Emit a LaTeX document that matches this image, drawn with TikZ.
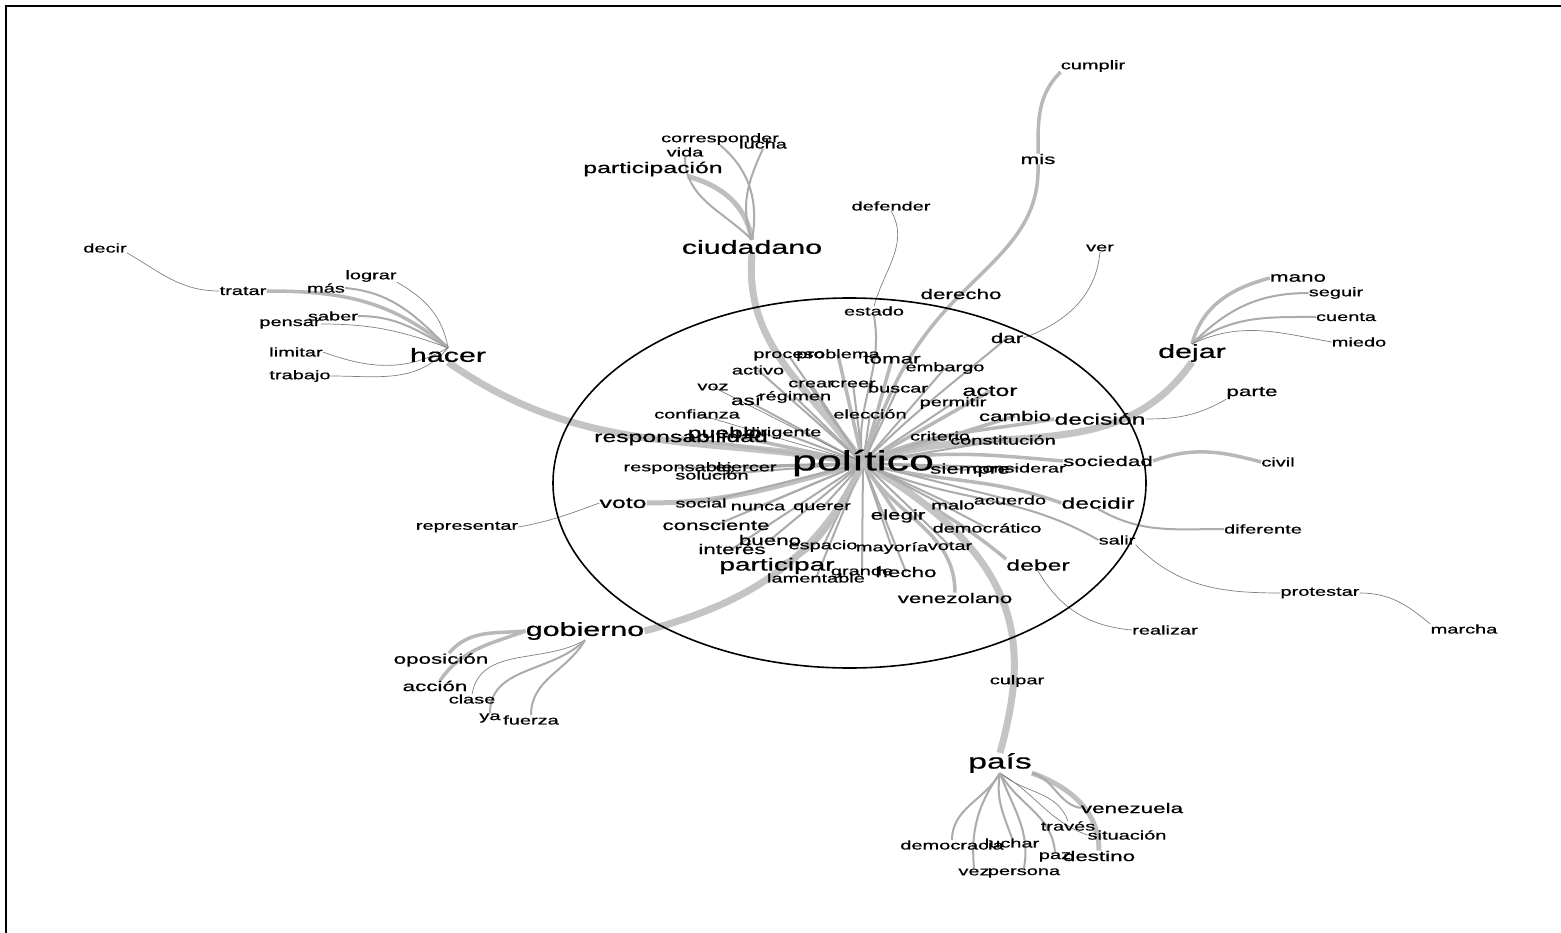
\documentclass[tikz,border=0pt]{standalone}
\usepackage{fontspec}
\setmainfont{Liberation Sans}[BoldFont={Liberation Sans}, BoldFeatures={FakeBold=0.6}]
\usepackage{graphicx}
\usetikzlibrary{backgrounds}
\newcommand{\sx}[1]{\scalebox{1.6}[1]{#1}}
\tikzset{
 wS/.style={inner sep=0pt, font=\bfseries\fontsize{12.5}{14}\selectfont},
 wM/.style={inner sep=0pt, font=\bfseries\fontsize{14}{16}\selectfont},
 wL/.style={inner sep=0pt, font=\bfseries\fontsize{15.5}{18}\selectfont},
 wXL/.style={inner sep=0pt, font=\bfseries\fontsize{19}{22}\selectfont},
 wP/.style={inner sep=0pt, font=\bfseries\fontsize{28}{32}\selectfont},
 e1/.style={draw=black!50, line width=0.7pt},
 e2/.style={draw=black!33, line width=2pt},
 e3/.style={draw=black!28, line width=3.5pt},
 e4/.style={draw=black!25, line width=5pt},
 e5/.style={draw=black!23, line width=7pt},
}
\begin{document}
\begin{tikzpicture}[x=1pt,y=1pt]
\useasboundingbox (0,0) rectangle (1561,-933);
\draw[line width=2.5pt] (6,-933) -- (6,-6) -- (1561,-6);
% ---------- nodes ----------
\node[wP] (politico) at (863,-463) {\sx{político}};
% hacer cluster
\node[wXL] (hacer) at (448,-355) {\sx{hacer}};
\node[wS] (decir) at (105,-248) {\sx{decir}};
\node[wS] (tratar) at (243,-291) {\sx{tratar}};
\node[wS] (mas) at (326,-288) {\sx{más}};
\node[wS] (lograr) at (371,-276) {\sx{lograr}};
\node[wS] (saber) at (333,-316) {\sx{saber}};
\node[wS] (pensar) at (290,-324) {\sx{pensar}};
\node[wS] (limitar) at (296,-352) {\sx{limitar}};
\node[wS] (trabajo) at (300,-376) {\sx{trabajo}};
% ciudadano cluster
\node[wXL] (ciudadano) at (752,-247) {\sx{ciudadano}};
\node[wL] (participacion) at (653,-169) {\sx{participación}};
\node[wS] (corresponder) at (720,-139) {\sx{corresponder}};
\node[wS] (lucha) at (763,-144) {\sx{lucha}};
\node[wS] (vida) at (685,-152) {\sx{vida}};
% top
\node[wS] (defender) at (891,-206) {\sx{defender}};
\node[wM] (mis) at (1038,-159) {\sx{mis}};
\node[wS] (cumplir) at (1093,-66) {\sx{cumplir}};
\node[wS] (ver) at (1100,-248) {\sx{ver}};
\node[wM] (derecho) at (961,-294) {\sx{derecho}};
\node[wS] (estado) at (874,-311) {\sx{estado}};
\node[wM] (dar) at (1007,-338) {\sx{dar}};
% dejar cluster
\node[wXL] (dejar) at (1192,-353) {\sx{dejar}};
\node[wM] (mano) at (1298,-278) {\sx{mano}};
\node[wS] (seguir) at (1336,-293) {\sx{seguir}};
\node[wS] (cuenta) at (1346,-317) {\sx{cuenta}};
\node[wS] (miedo) at (1359,-342) {\sx{miedo}};
\node[wM] (parte) at (1252,-393) {\sx{parte}};
\node[wL] (decision) at (1100,-419) {\sx{decisión}};
\node[wM] (sociedad) at (1108,-461) {\sx{sociedad}};
\node[wS] (civil) at (1278,-462) {\sx{civil}};
\node[wL] (decidir) at (1098,-503) {\sx{decidir}};
\node[wS] (diferente) at (1263,-529) {\sx{diferente}};
\node[wS] (salir) at (1117,-540) {\sx{salir}};
\node[wS] (protestar) at (1320,-593) {\sx{protestar}};
\node[wS] (marcha) at (1464,-629) {\sx{marcha}};
\node[wL] (deber) at (1038,-565) {\sx{deber}};
\node[wS] (realizar) at (1165,-630) {\sx{realizar}};
% gobierno cluster
\node[wXL] (gobierno) at (585,-631) {\sx{gobierno}};
\node[wM] (oposicion) at (441,-660) {\sx{oposición}};
\node[wM] (accion) at (435,-686) {\sx{acción}};
\node[wS] (clase) at (472,-699) {\sx{clase}};
\node[wS] (ya) at (490,-718) {\sx{ya}};
\node[wS] (fuerza) at (531,-720) {\sx{fuerza}};
\node[wS] (representar) at (467,-527) {\sx{representar}};
% pais cluster
\node[wXL, font=\bfseries\fontsize{21}{24}\selectfont] (pais) at (1000,-763) {\sx{país}};
\node[wS] (culpar) at (1017,-681) {\sx{culpar}};
\node[wM] (venezuela) at (1132,-808) {\sx{venezuela}};
\node[wS] (traves) at (1068,-826) {\sx{través}};
\node[wS] (situacion) at (1127,-835) {\sx{situación}};
\node[wS] (democracia) at (952,-845) {\sx{democracia}};
\node[wS] (luchar) at (1012,-843) {\sx{luchar}};
\node[wS] (paz) at (1055,-857) {\sx{paz}};
\node[wM] (destino) at (1099,-856) {\sx{destino}};
\node[wS] (vez) at (974,-872) {\sx{vez}};
\node[wS] (persona) at (1024,-873) {\sx{persona}};
% centre
\node[wS] (proceso) at (789,-356) {\sx{proceso}};
\node[wS] (problema) at (838,-355) {\sx{problema}};
\node[wM] (tomar) at (892,-359) {\sx{tomar}};
\node[wS] (activo) at (758,-370) {\sx{activo}};
\node[wS] (embargo) at (945,-368) {\sx{embargo}};
\node[wS] (voz) at (713,-387) {\sx{voz}};
\node[wS] (crear) at (811,-384) {\sx{crear}};
\node[wS] (creer) at (853,-384) {\sx{creer}};
\node[wS] (buscar) at (898,-388) {\sx{buscar}};
\node[wL] (actor) at (990,-391) {\sx{actor}};
\node[wM] (asi) at (746,-400) {\sx{así}};
\node[wS] (regimen) at (795,-397) {\sx{régimen}};
\node[wS] (permitir) at (953,-403) {\sx{permitir}};
\node[wS] (confianza) at (697,-414) {\sx{confianza}};
\node[wS] (eleccion) at (870,-414) {\sx{elección}};
\node[wM] (cambio) at (1015,-416) {\sx{cambio}};
\node[wL] (responsabilidad) at (681,-438) {\sx{responsabilidad}};
\node[wL] (pueblo) at (725,-434) {\sx{pueblo}};
\node[wS] (dirigente) at (783,-433) {\sx{dirigente}};
\node[wS] (criterio) at (940,-436) {\sx{criterio}};
\node[wS] (constitucion) at (1003,-440) {\sx{constitución}};
\node[wS] (responsable) at (678,-468) {\sx{responsable}};
\node[wS] (ejercer) at (746,-468) {\sx{ejercer}};
\node[wS] (solucion) at (712,-475) {\sx{solución}};
\node[wM] (siempre) at (970,-470) {\sx{siempre}};
\node[wS] (considerar) at (1019,-468) {\sx{considerar}};
\node[wL] (voto) at (623,-503) {\sx{voto}};
\node[wS] (social) at (701,-503) {\sx{social}};
\node[wS] (nunca) at (758,-507) {\sx{nunca}};
\node[wS] (querer) at (822,-508) {\sx{querer}};
\node[wM] (elegir) at (898,-516) {\sx{elegir}};
\node[wS] (malo) at (953,-505) {\sx{malo}};
\node[wS] (acuerdo) at (1010,-500) {\sx{acuerdo}};
\node[wM] (consciente) at (716,-525) {\sx{consciente}};
\node[wS] (democratico) at (987,-528) {\sx{democrático}};
\node[wM] (bueno) at (770,-540) {\sx{bueno}};
\node[wM] (interes) at (732,-549) {\sx{interés}};
\node[wS] (espacio) at (823,-546) {\sx{espacio}};
\node[wS] (mayoria) at (892,-548) {\sx{mayoría}};
\node[wS] (votar) at (950,-546) {\sx{votar}};
\node[wL, font=\bfseries\fontsize{17.5}{20}\selectfont] (participar) at (777,-566) {\sx{participar}};
\node[wS] (grande) at (862,-572) {\sx{grande}};
\node[wM] (hecho) at (906,-572) {\sx{hecho}};
\node[wS] (lamentable) at (816,-578) {\sx{lamentable}};
\node[wM] (venezolano) at (955,-598) {\sx{venezolano}};
% ---------- edges ----------
\begin{pgfonlayer}{background}
% hacer
\draw[e1] (decir.south east) to[out=-30,in=180] (tratar.west);
\draw[e3] (tratar.east) to[out=0,in=140] (hacer.north);
\draw[e2] (mas.east) to[out=-5,in=135] (hacer.north);
\draw[e1] (lograr.south east) to[out=-30,in=100] (hacer.north);
\draw[e2] (saber.east) to[out=0,in=150] (hacer.north);
\draw[e1] (pensar.east) to[out=0,in=160] (hacer.north);
\draw[e1] (limitar.east) to[out=-20,in=210] (hacer.north);
\draw[e1] (trabajo.east) to[out=0,in=230] (hacer.north);
\draw[e5] (hacer.south) to[out=-35,in=170] (politico.center);
% ciudadano
\draw[e4] ([xshift=35pt]participacion.south) to[out=-15,in=100] (ciudadano.north);
\draw[e2] (vida.south) to[out=-90,in=135] (ciudadano.north);
\draw[e2] (corresponder.south) to[out=-40,in=80] (ciudadano.north);
\draw[e2] (lucha.south) to[out=-115,in=110] (ciudadano.north);
\draw[e5] (ciudadano.south) to[out=-95,in=125] (politico.center);
% top
\draw[e1] (defender.south) to[out=-60,in=75] (estado.north);
\draw[e2] (estado.south) to[out=-80,in=100] (politico.center);
\draw[e3] (cumplir.south west) to[out=-135,in=90] (mis.north);
\draw[e3] (mis.south) to[out=-88,in=45] (derecho.center);
\draw[e3] (derecho.center) to[out=-135,in=70] (politico.center);
\draw[e1] (ver.south) to[out=-95,in=20] (dar.east);
\draw[e2] (dar.center) to[out=-140,in=45] (politico.center);
% dejar
\draw[e3] (mano.west) to[out=195,in=75] (dejar.north);
\draw[e2] (seguir.west) to[out=180,in=45] (dejar.north);
\draw[e2] (cuenta.west) to[out=180,in=35] (dejar.north);
\draw[e1] (miedo.west) to[out=170,in=25] (dejar.north);
\draw[e5] (dejar.south) to[out=-125,in=20] (politico.center);
\draw[e1] (decision.east) to[out=0,in=210] (parte.south west);
\draw[e3] (decision.west) to[out=190,in=25] (politico.center);
\draw[e3] (sociedad.east) to[out=20,in=165] (civil.west);
\draw[e3] (sociedad.west) to[out=175,in=10] (politico.center);
\draw[e2] (decidir.south) to[out=-30,in=180] (diferente.west);
\draw[e3] (decidir.west) to[out=160,in=-15] (politico.center);
\draw[e1] (salir.south east) to[out=-45,in=180] (protestar.west);
\draw[e1] (protestar.east) to[out=0,in=140] (marcha.north west);
\draw[e2] (salir.west) to[out=150,in=-25] (politico.center);
\draw[e1] (deber.south) to[out=-60,in=175] (realizar.west);
\draw[e3] (deber.north west) to[out=140,in=-35] (politico.center);
% gobierno
\draw[e3] ([xshift=8pt]oposicion.north) to[out=50,in=185] (gobierno.west);
\draw[e3] ([xshift=5pt]accion.north) to[out=55,in=200] (gobierno.west);
\draw[e1] (clase.north) to[out=80,in=210] (gobierno.south);
\draw[e2] (ya.north) to[out=90,in=225] (gobierno.south);
\draw[e2] (fuerza.north) to[out=90,in=240] (gobierno.south);
\draw[e5] (gobierno.east) to[out=15,in=-115] (politico.center);
\draw[e1] (representar.east) to[out=10,in=200] (voto.west);
\draw[e4] (voto.east) to[out=0,in=195] (politico.center);
% pais
\draw[e5] (pais.north) .. controls (1028,-650) and (1030,-560) .. (politico.center);
\draw[e4] (pais.south east) to[out=-20,in=90] (destino.north);
\draw[e2] (pais.south east) to[out=-15,in=170] (venezuela.west);
\draw[e1] (pais.south) to[out=-40,in=110] (traves.north);
\draw[e1] (pais.south) to[out=-30,in=160] (situacion.west);
\draw[e2] (pais.south) to[out=-60,in=95] (paz.north);
\draw[e2] (pais.south) to[out=-70,in=80] (persona.north);
\draw[e2] (pais.south) to[out=-100,in=110] (luchar.north);
\draw[e2] (pais.south) to[out=-120,in=90] (democracia.north);
\draw[e2] (pais.south) to[out=-125,in=95] (vez.north);
% centre
\foreach \n in {proceso,activo,embargo,crear,creer,buscar,asi,regimen,permitir,eleccion,dirigente,criterio,constitucion,responsable,ejercer,solucion,siempre,considerar,social,nunca,querer,malo,acuerdo,consciente,democratico,bueno,interes,espacio,mayoria,votar,grande,hecho,lamentable}
  \draw[e2] (politico.center) -- (\n.center);
\foreach \n in {voz,confianza}
  \draw[e1] (politico.center) -- (\n.center);
\foreach \n in {problema,tomar,actor,pueblo,cambio,elegir,responsabilidad}
  \draw[e3] (politico.center) -- (\n.center);
\draw[e3] (politico.center) to[out=-60,in=90] (venezolano.north);
\draw[e4] (politico.center) to[out=-120,in=20] (participar.center);
\end{pgfonlayer}
% circle
\draw[line width=1.6pt] (849.5,-483) ellipse [x radius=296.5, y radius=185];
\end{tikzpicture}
\end{document}
